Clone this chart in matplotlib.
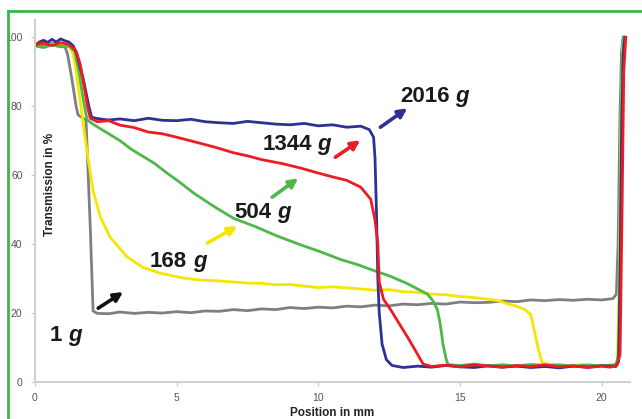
import matplotlib
matplotlib.use("Agg")
import matplotlib.pyplot as plt
from matplotlib.lines import Line2D

plt.rcParams['font.family'] = ['Liberation Sans', 'DejaVu Sans']

# Messkurven (Position in mm, Transmission in %)
gray_x = [0, 0.3, 0.6, 0.9, 1.05, 1.15, 1.3, 1.45, 1.52, 1.6, 1.8, 1.95, 2.05, 2.2, 2.6,
          3.0, 3.5, 4.0, 4.5, 5.0, 5.5, 6.0, 6.5, 7.0, 7.5, 8.0, 8.5, 9.0, 9.5, 10.0,
          10.5, 11.0, 11.5, 12.0, 12.5, 13.0, 13.5, 14.0, 14.5, 15.0, 15.5, 16.0, 16.5,
          17.0, 17.5, 18.0, 18.5, 19.0, 19.5, 20.0, 20.4, 20.52, 20.58, 20.64, 20.7, 20.76]
gray_y = [98, 97.6, 98.2, 97.8, 97.5, 95, 88, 80, 77.5, 77, 76, 45, 20.6, 19.9, 19.8,
          20.3, 19.9, 20.2, 20.0, 20.4, 20.1, 20.6, 20.5, 21.0, 20.7, 21.2, 21.0, 21.6, 21.3, 21.7,
          21.5, 22.0, 21.8, 22.3, 22.1, 22.6, 22.4, 22.8, 22.6, 23.2, 23.0, 23.1, 23.5,
          23.3, 23.8, 23.6, 23.9, 23.7, 24.0, 23.8, 24.2, 25.5, 40, 75, 96, 100]

yellow_x = [0, 0.3, 0.6, 0.9, 1.2, 1.35, 1.45, 1.55, 1.65, 1.75, 1.87, 2.05, 2.3, 2.65,
            3.25, 3.8, 4.4, 5.2, 5.8, 6.5, 7.0, 7.5, 8.0, 8.5, 9.0, 9.5, 10.0, 10.5, 11.0,
            11.5, 12.0, 12.5, 13.0, 13.5, 14.0, 14.5, 15.0, 15.5, 16.0, 16.4, 16.7, 17.0,
            17.3, 17.5, 17.62, 17.75, 17.9, 18.3, 18.8, 19.3, 19.8, 20.3, 20.55, 20.62,
            20.68, 20.74, 20.8]
yellow_y = [98, 98.4, 97.8, 98.3, 97.5, 95, 90, 84, 78, 72, 65, 55.5, 48, 42,
            36.3, 33.3, 31.6, 30.2, 29.6, 29.3, 29.0, 28.7, 28.6, 28.2, 28.3, 27.8, 27.4, 27.6, 27.3,
            27.0, 26.6, 26.8, 26.2, 26.0, 25.5, 25.3, 24.8, 24.5, 24.0, 23.5, 22.6, 22.0,
            21.0, 19.5, 15, 10, 5.5, 5.0, 4.6, 5.1, 4.8, 4.9, 5.2, 30, 75, 97, 100]

green_x = [0, 0.3, 0.6, 0.9, 1.2, 1.4, 1.55, 1.7, 1.84, 2.1, 2.4, 3.0, 3.4, 3.8, 4.2,
           4.66, 5.1, 5.6, 6.3, 7.0, 7.8, 8.5, 9.3, 10.0, 10.8, 11.4, 11.9, 12.5, 13.1,
           13.5, 13.85, 14.05, 14.2, 14.3, 14.4, 14.5, 14.58, 15.0, 15.5, 16.0, 16.5,
           17.0, 17.5, 18.0, 18.5, 19.0, 19.5, 20.0, 20.5, 20.6, 20.66, 20.72, 20.78]
green_y = [97.5, 97.0, 97.8, 97.2, 97.4, 96, 90, 82, 76, 74.5, 73, 70, 67.5, 65.5, 63.5,
           60.6, 58.0, 54.8, 51.0, 47.5, 45.0, 42.5, 40.0, 38.0, 35.5, 34.0, 32.5, 30.8, 28.7,
           27.0, 25.5, 23.5, 21, 17, 11, 7, 5.0, 4.8, 5.2, 4.7, 5.0, 4.6,
           5.1, 4.8, 5.0, 4.6, 4.9, 4.7, 5.0, 8, 45, 90, 100]

red_x = [0, 0.3, 0.6, 0.9, 1.2, 1.45, 1.6, 1.75, 1.85, 1.95, 2.2, 2.6, 3.0, 3.5, 4.0,
         4.5, 5.0, 5.8, 6.4, 7.0, 7.5, 8.0, 8.7, 9.4, 10.0, 10.5, 11.0, 11.5, 11.85, 12.0,
         12.1, 12.15, 12.3, 12.55, 12.85, 13.15, 13.4, 13.7, 14.0, 14.5, 15.0, 15.5, 16.0,
         16.5, 17.0, 17.5, 18.0, 18.5, 19.0, 19.5, 20.0, 20.3, 20.55, 20.65, 20.72, 20.78,
         20.85]
red_y = [98, 98.3, 97.6, 98.4, 97.9, 96, 92, 85, 80, 76.5, 75.5, 75.8, 74.5, 73.8, 72.5,
         72.0, 71.0, 69.3, 68.0, 66.5, 65.6, 64.5, 63.4, 62.0, 60.6, 59.5, 58.5, 56.5, 53, 47,
         40, 29, 24, 21, 17, 13, 9.5, 5.2, 4.5, 4.9, 4.4, 5.0, 4.6,
         4.3, 4.8, 4.5, 5.0, 4.4, 4.7, 4.2, 4.6, 4.3, 5.0, 8, 50, 90, 100]

blue_x = [0, 0.15, 0.3, 0.45, 0.6, 0.75, 0.9, 1.05, 1.2, 1.35, 1.48, 1.6, 1.7, 1.8,
          1.9, 2.0, 2.2, 2.6, 3.0, 3.5, 4.0, 4.5, 5.0, 5.5, 6.0, 6.5, 7.0, 7.5, 8.0, 8.5,
          9.0, 9.5, 10.0, 10.5, 11.0, 11.5, 11.8, 11.95, 12.0, 12.05, 12.1, 12.15, 12.25,
          12.4, 12.6, 13.0, 13.5, 14.0, 14.5, 15.0, 15.5, 16.0, 16.5, 17.0, 17.5, 18.0,
          18.5, 19.0, 19.5, 20.0, 20.5, 20.6, 20.65, 20.7, 20.76, 20.82]
blue_y = [97.5, 98.6, 99.1, 98.5, 99.4, 98.6, 99.5, 99.0, 98.6, 97.5, 95, 91, 88, 84,
          80, 76.8, 76.4, 76.0, 76.3, 75.8, 76.5, 75.9, 75.8, 76.2, 75.5, 75.2, 75.0, 75.6, 75.2, 74.8,
          74.6, 75.0, 74.3, 74.6, 73.9, 74.2, 73.2, 71, 65, 50, 30, 20, 11,
          6.5, 4.8, 4.2, 4.6, 4.3, 4.8, 4.4, 4.2, 4.7, 4.3, 4.6, 4.2, 4.5,
          4.1, 4.6, 4.3, 4.7, 4.5, 6, 30, 70, 95, 100]

x_ticks = [0, 5, 10, 15, 20]
y_ticks = [0, 20, 40, 60, 80, 100]

# Beschriftungen: (Zahl, Textposition, Pfeil-Start, Pfeil-Ende, Pfeilfarbe)
labels = [
    ("2016", (12.9, 82.9), (12.19, 73.9), (13.14, 79.4), '#2E3192'),
    ("1344", (8.02, 69.0), (10.6, 65.2), (11.48, 70.1), '#ED1C24'),
    ("504", (7.03, 49.3), (8.37, 53.6), (9.29, 59.1), '#4DB848'),
    ("168", (4.06, 35.0), (6.08, 40.3), (7.14, 45.2), '#F5E600'),
    ("1", (0.53, 13.6), (2.23, 21.4), (3.11, 26.1), '#111111'),
]

fig = plt.figure(figsize=(6.42, 4.19), dpi=100)
ax = fig.add_axes([35 / 642, 37 / 419, 595 / 642, 362 / 419])

lw = 2.0
ax.plot(gray_x, gray_y, color='#7F7F7F', lw=lw)
ax.plot(yellow_x, yellow_y, color='#F5E600', lw=lw)
ax.plot(green_x, green_y, color='#4DB848', lw=lw)
ax.plot(blue_x, blue_y, color='#2E3192', lw=lw)
ax.plot(red_x, red_y, color='#ED1C24', lw=lw)

for num, pos, a0, a1, col in labels:
    t = ax.text(pos[0], pos[1], num, fontsize=16, fontweight='bold',
                color='#1A1A1A', ha='left', va='center')
    ax.annotate('g', xy=(1, 0), xycoords=t, xytext=(4, 0), textcoords='offset points',
                fontsize=16, fontweight='bold', fontstyle='italic', color='#1A1A1A',
                ha='left', va='bottom')
    ax.annotate('', xy=a1, xytext=a0,
                arrowprops=dict(arrowstyle='-|>', color=col, lw=2.6,
                                mutation_scale=13, shrinkA=0, shrinkB=0))

ax.set_xlim(0, 21)
ax.set_ylim(0, 105)
ax.set_xticks(x_ticks)
ax.set_yticks(y_ticks)
ax.tick_params(colors='#C8C8C8', labelcolor='#555555', labelsize=7.5,
               length=3, width=0.8)
ax.tick_params(axis='y', pad=6)
ax.tick_params(axis='x', pad=5)
for s in ['top', 'right']:
    ax.spines[s].set_visible(False)
for s in ['left', 'bottom']:
    ax.spines[s].set_color('#D0D0D0')
    ax.spines[s].set_linewidth(1.5)

fig.text(50 / 642, 1 - 184 / 419, "Transmission in %", rotation=90, fontsize=8.5,
         fontweight='bold', color='#222222', ha='center', va='center')
fig.text(332 / 642, 1 - 413 / 419, "Position in mm", fontsize=8.5,
         fontweight='bold', color='#222222', ha='center', va='center')

# gruener Rahmen
fig.add_artist(Line2D([8 / 642, 8 / 642], [0, 1 - 11 / 419], color='#3DB54A', lw=2))
fig.add_artist(Line2D([8 / 642, 1], [1 - 11 / 419, 1 - 11 / 419], color='#3DB54A', lw=2))

fig.savefig('out.png', dpi=100)
